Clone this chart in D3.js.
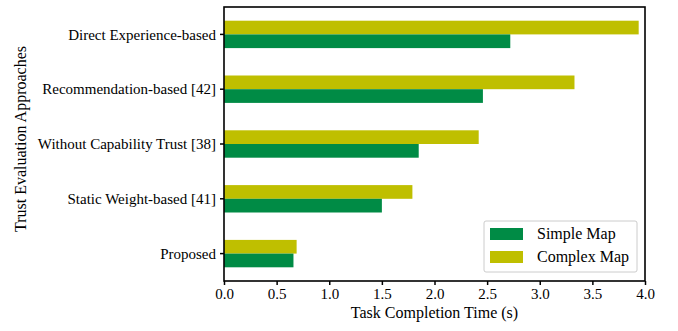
<!DOCTYPE html>
<html><head><meta charset="utf-8">
<script src="https://cdn.jsdelivr.net/npm/d3@7"></script>
<style>body{margin:0;background:#fff}svg{display:block}text{font-family:"Liberation Serif","Times New Roman",serif;fill:#000}</style>
</head><body><div id="chart"></div>
<script>
const categories = ["Direct Experience-based","Recommendation-based [42]","Without Capability Trust [38]","Static Weight-based [41]","Proposed"];
const simpleMap = [2.72, 2.46, 1.85, 1.50, 0.66];
const complexMap = [3.94, 3.33, 2.42, 1.79, 0.69];
const xTicks = [0,0.5,1.0,1.5,2.0,2.5,3.0,3.5,4.0];
const seriesNames = ["Simple Map","Complex Map"];
const colors = ["#008B45","#BFBF00"];

const W=678,H=331, m={l:224,r:33,t:7,b:50};
const iw=W-m.l-m.r, ih=H-m.t-m.b;
const svg=d3.select("#chart").append("svg").attr("width",W).attr("height",H);
const g=svg.append("g").attr("transform",`translate(${m.l},${m.t})`);
const x=d3.scaleLinear().domain([0,4]).range([0,iw]);
const y=d3.scaleBand().domain(categories).range([0,ih]).paddingInner(0).paddingOuter(0);
const bh=y.bandwidth()*0.25;
const cy=c=>y(c)+y.bandwidth()/2;

g.selectAll(".c").data(categories).enter().append("rect")
 .attr("x",x(0)).attr("y",c=>cy(c)-bh).attr("height",bh)
 .attr("width",(c,i)=>x(complexMap[i])-x(0)).attr("fill",colors[1]);
g.selectAll(".s").data(categories).enter().append("rect")
 .attr("x",x(0)).attr("y",c=>cy(c)).attr("height",bh)
 .attr("width",(c,i)=>x(simpleMap[i])-x(0)).attr("fill",colors[0]);

const xa=g.append("g").attr("transform",`translate(0,${ih})`)
 .call(d3.axisBottom(x).tickValues(xTicks).tickFormat(d3.format(".1f")).tickSize(4).tickPadding(3));
const ya=g.append("g").call(d3.axisLeft(y).tickSize(4).tickPadding(4));
[xa,ya].forEach(a=>{a.attr("font-family",null).attr("font-size",null);a.select(".domain").remove();a.selectAll("line").attr("stroke","#000").attr("stroke-width",1.5);a.selectAll("text").attr("font-size","15px").attr("fill","#000").style("font-family","'Liberation Serif', serif");});
ya.selectAll("text").attr("dy","0.35em");

g.append("rect").attr("width",iw).attr("height",ih).attr("fill","none").attr("stroke","#000").attr("stroke-width",1.6);

g.append("text").attr("x",iw/2).attr("y",ih+37).attr("text-anchor","middle").attr("font-size","16px").text("Task Completion Time (s)");
svg.append("text").attr("transform",`translate(26,${m.t+ih/2-5}) rotate(-90)`).attr("text-anchor","middle").attr("font-size","16px").text("Trust Evaluation Approaches");

const lg=svg.append("g").attr("transform","translate(484,221)");
lg.append("rect").attr("width",153).attr("height",51).attr("rx",2).attr("fill","#fff").attr("stroke","#ccc").attr("stroke-width",1);
seriesNames.forEach((n,i)=>{
  lg.append("rect").attr("x",6).attr("y",7+i*23).attr("width",33).attr("height",12).attr("fill",colors[i]);
  lg.append("text").attr("x",53).attr("y",18+i*23).attr("font-size","16px").text(n);
});
</script></body></html>
